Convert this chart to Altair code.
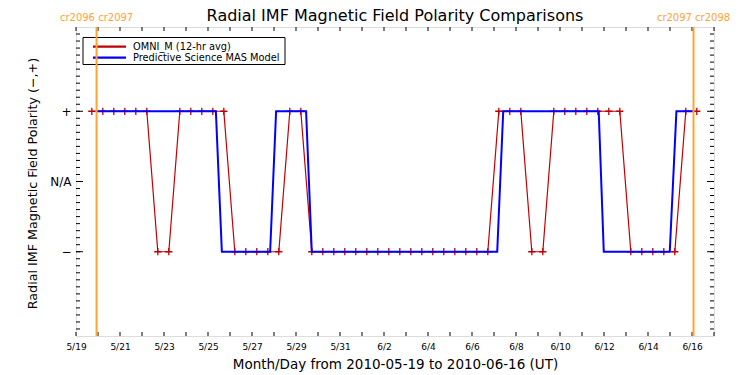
import altair as alt
import pandas as pd

# ---------------- data ----------------
# OMNI_M 12-hr averages (+1 = "+", -1 = "-"), one value every 12 hours
red_start = "2010-05-19 17:15"
red_values = [
    1, 1, 1, 1, 1, 1,            # k 0-5
    -1, -1,                      # k 6-7
    1, 1, 1, 1, 1,               # k 8-12
    -1, -1, -1, -1, -1,          # k 13-17
    1, 1,                        # k 18-19
    -1, -1, -1, -1, -1, -1, -1, -1, -1, -1, -1, -1, -1, -1, -1, -1, -1,  # k 20-36
    1, 1, 1,                     # k 37-39
    -1, -1,                      # k 40-41
    1, 1, 1, 1, 1, 1, 1,         # k 42-48
    -1, -1, -1, -1, -1,          # k 49-53
    1, 1,                        # k 54-55
]
red_times = [t.strftime("%Y-%m-%dT%H:%M") for t in
             pd.date_range(red_start, periods=len(red_values), freq="12h")]

# Predictive Science MAS model polarity (transition points)
blue_times = [
    "2010-05-19T22:26", "2010-05-25T08:35", "2010-05-25T15:07",
    "2010-05-27T19:47", "2010-05-28T02:18", "2010-05-29T11:00",
    "2010-05-29T17:13", "2010-06-07T03:30", "2010-06-07T10:04",
    "2010-06-11T18:14", "2010-06-11T23:45", "2010-06-14T23:45",
    "2010-06-15T07:00", "2010-06-16T01:40",
]
blue_values = [1, 1, -1, -1, 1, 1, -1, -1, 1, 1, -1, -1, 1, 1]

# Carrington rotation boundaries
cr_times = ["2010-05-19T22:26", "2010-06-16T01:40"]
cr_labels = ["cr2096 cr2097", "cr2097 cr2098"]

series_names = ["OMNI_M (12-hr avg)", "Predictive Science MAS Model"]
series_colors = ["#c00000", "#0000ff"]
cr_color = "#ffa333"

label_days = [(5, 19), (5, 21), (5, 23), (5, 25), (5, 27), (5, 29), (5, 31),
              (6, 2), (6, 4), (6, 6), (6, 8), (6, 10), (6, 12), (6, 14), (6, 16)]
tick_days = [t.strftime("%Y-%m-%dT%H:%M") for t in
             pd.date_range("2010-05-19", "2010-06-17", freq="D")]
y_labels = {1: "+", 0: "N/A", -1: "\u2212"}
y_major = [-1, 0, 1]
y_minor = [round(-2.1 + 0.1 * i, 1) for i in range(43)]

title_text = "Radial IMF Magnetic Field Polarity Comparisons"
x_title = "Month/Day from 2010-05-19 to 2010-06-16 (UT)"
y_title = "Radial IMF Magnetic Field Polarity (\u2212,+)"

# ---------------- layout ----------------
FONT = "DejaVu Sans"
W, H = 638, 309

xs = alt.Scale(domain=[alt.DateTime(year=2010, month=5, date=19),
                       alt.DateTime(year=2010, month=6, date=17)])
ys = alt.Scale(domain=[-2.2, 2.2], nice=False, zero=False)

red_df = pd.DataFrame({"t": red_times, "v": red_values})
blue_df = pd.DataFrame({"t": blue_times, "v": blue_values})
cr_df = pd.DataFrame({"t": cr_times, "label": cr_labels})
xt_df = pd.DataFrame({"t": tick_days})
ymin_df = pd.DataFrame({"v": y_minor})
ymaj_df = pd.DataFrame({"v": y_major})
one = pd.DataFrame({"a": [0]})

label_expr = " : ".join(
    [f"datum.value == {k} ? '{v}'" for k, v in y_labels.items()]) + " : ''"

x_axis = alt.Axis(
    values=[alt.DateTime(year=2010, month=m, date=d) for m, d in label_days],
    format="%-m/%-d", ticks=False, tickSize=0, domain=False, grid=False,
    labelFont=FONT, labelFontSize=9, labelColor="black", labelPadding=10,
    labelBaseline="middle", labelFlush=False, labelOverlap=False,
    title=x_title, titleFont=FONT, titleFontSize=13.5, titleFontWeight="normal",
    titleColor="black", titleY=28, titleBaseline="middle",
)
y_axis = alt.Axis(
    values=y_major, labelExpr=label_expr, ticks=False, tickSize=0,
    domain=False, grid=False, labelFont=FONT, labelFontSize=12,
    labelColor="black", labelPadding=5,
    title=y_title, titleFont=FONT, titleFontSize=12.7, titleFontWeight="normal",
    titleColor="black", titleX=-44, titleY=156, titleAngle=270,
    titleAlign="center", titleBaseline="middle",
)

X = lambda: alt.X("t:T", scale=xs, axis=x_axis)
Y = lambda: alt.Y("v:Q", scale=ys, axis=y_axis)

red_line = alt.Chart(red_df).mark_line(
    color=series_colors[0], strokeWidth=1.2).encode(x=X(), y=Y())
red_pts = alt.Chart(red_df).mark_point(
    shape="M-1,0L1,0M0,-1L0,1", size=52, filled=False,
    color=series_colors[0], strokeWidth=1.3, opacity=1).encode(x=X(), y=Y())
blue_line = alt.Chart(blue_df).mark_line(
    color=series_colors[1], strokeWidth=2).encode(x=X(), y=Y())

tb = alt.Chart(xt_df).mark_rule(color="black").encode(
    x=X(), y=alt.value(H), y2=alt.value(H - 4))
tt = alt.Chart(xt_df).mark_rule(color="black").encode(
    x=X(), y=alt.value(0), y2=alt.value(4))
tl = alt.Chart(ymin_df).mark_rule(color="black").encode(
    y=Y(), x=alt.value(0), x2=alt.value(4))
tr = alt.Chart(ymin_df).mark_rule(color="black").encode(
    y=Y(), x=alt.value(W), x2=alt.value(W - 4))
tl2 = alt.Chart(ymaj_df).mark_rule(color="black").encode(
    y=Y(), x=alt.value(0), x2=alt.value(7))
tr2 = alt.Chart(ymaj_df).mark_rule(color="black").encode(
    y=Y(), x=alt.value(W), x2=alt.value(W - 7))

# legend box
leg_box = alt.Chart(one).mark_rect(fill="white", stroke="black", strokeWidth=1).encode(
    x=alt.value(7), x2=alt.value(209), y=alt.value(10.5), y2=alt.value(37.5))
leg = [leg_box]
for i, (name, col) in enumerate(zip(series_names, series_colors)):
    yy = 19.7 + 11 * i
    leg.append(alt.Chart(one).mark_rule(color=col, strokeWidth=2.2).encode(
        x=alt.value(17), x2=alt.value(50), y=alt.value(yy)))
    leg.append(alt.Chart(one).mark_text(
        align="left", baseline="middle", font=FONT, fontSize=9.8, color="black"
    ).encode(x=alt.value(57), y=alt.value(yy), text=alt.value(name)))

cr_rule = alt.Chart(cr_df).mark_rule(color=cr_color, strokeWidth=2).encode(x=X())
cr_text = alt.Chart(cr_df).mark_text(
    align="center", baseline="middle", font=FONT, fontSize=10, color=cr_color
).encode(x=X(), y=alt.value(-9.5), text="label:N")

title_mark = alt.Chart(one).mark_text(
    align="center", baseline="alphabetic", font=FONT, fontSize=16, color="black"
).encode(x=alt.value(W / 2), y=alt.value(-6), text=alt.value(title_text))

chart = alt.layer(
    red_line, red_pts, blue_line, tb, tt, tl, tr, tl2, tr2, *leg,
    cr_rule, cr_text, title_mark
).properties(
    width=W, height=H,
    padding={"left": 76, "top": 27, "right": 36, "bottom": 39},
    autosize=alt.AutoSizeParams(type="none"),
).configure_view(stroke="black", strokeWidth=1).configure(background="white")

chart.save("out.html", embed_options={"renderer": "svg", "actions": False})
